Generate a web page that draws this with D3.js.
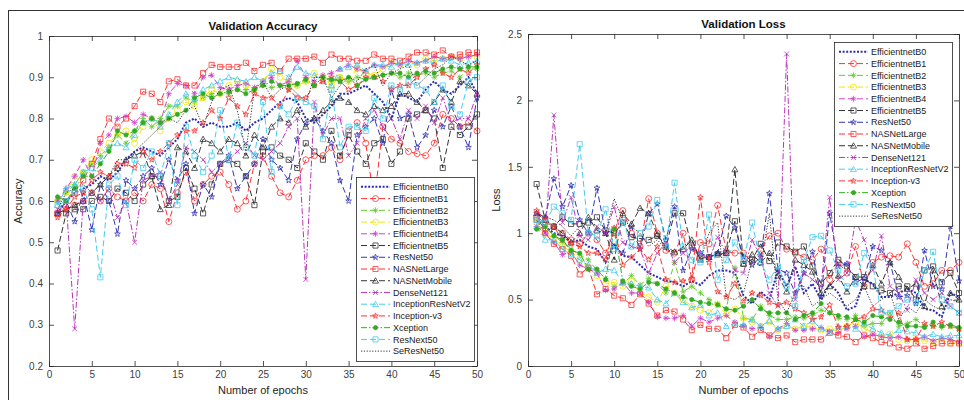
<!DOCTYPE html>
<html lang="en">
<head>
<meta charset="UTF-8">
<title>Validation Accuracy / Loss</title>
<script src="https://cdn.jsdelivr.net/npm/d3@7"></script>
<style>
  body { margin: 0; background: #fff; }
  svg text { font-family: "Liberation Sans", Arial, sans-serif; }
</style>
</head>
<body>
<div id="chart"></div>
<script>
// ---- data ----
const epochs = [1,2,3,4,5,6,7,8,9,10,11,12,13,14,15,16,17,18,19,20,21,22,23,24,25,26,27,28,29,30,31,32,33,34,35,36,37,38,39,40,41,42,43,44,45,46,47,48,49,50];
const modelNames = ["EfficientnetB0","EfficientnetB1","EfficientnetB2","EfficientnetB3","EfficientnetB4","EfficientnetB5","ResNet50","NASNetLarge","NASNetMobile","DenseNet121","InceptionResNetV2","Inception-v3","Xception","ResNext50","SeResNet50"];
const accTicks = [0.2,0.3,0.4,0.5,0.6,0.7,0.8,0.9,1];
const lossTicks = [0,0.5,1,1.5,2,2.5];
const epochTicks = [0,5,10,15,20,25,30,35,40,45,50];

// validation accuracy
const accB0 = [0.57,0.6,0.62,0.63,0.64,0.66,0.65,0.67,0.7,0.72,0.73,0.72,0.71,0.73,0.75,0.79,0.8,0.78,0.79,0.78,0.78,0.79,0.77,0.79,0.8,0.82,0.84,0.85,0.84,0.8,0.79,0.81,0.83,0.86,0.86,0.87,0.88,0.86,0.84,0.8,0.86,0.85,0.84,0.87,0.89,0.87,0.86,0.88,0.9,0.86];
const accB1 = [0.57,0.58,0.59,0.6,0.62,0.6,0.63,0.61,0.6,0.62,0.6,0.64,0.63,0.55,0.62,0.67,0.6,0.64,0.66,0.67,0.64,0.58,0.6,0.69,0.71,0.66,0.62,0.61,0.65,0.7,0.71,0.71,0.73,0.7,0.77,0.79,0.74,0.6,0.78,0.75,0.74,0.72,0.715,0.71,0.74,0.81,0.8,0.78,0.79,0.77];
const accB2 = [0.6,0.62,0.64,0.67,0.69,0.71,0.73,0.76,0.74,0.77,0.8,0.78,0.8,0.83,0.83,0.85,0.84,0.85,0.86,0.86,0.86,0.87,0.87,0.87,0.88,0.875,0.88,0.87,0.88,0.89,0.88,0.9,0.89,0.9,0.89,0.9,0.895,0.9,0.905,0.91,0.9,0.91,0.905,0.91,0.9,0.91,0.915,0.9,0.92,0.92];
const accB3 = [0.6,0.62,0.66,0.67,0.7,0.72,0.74,0.76,0.77,0.74,0.78,0.8,0.77,0.8,0.82,0.84,0.83,0.85,0.87,0.86,0.88,0.89,0.88,0.87,0.89,0.92,0.9,0.89,0.88,0.89,0.91,0.9,0.88,0.9,0.89,0.92,0.91,0.905,0.92,0.935,0.93,0.94,0.93,0.945,0.94,0.945,0.95,0.945,0.95,0.95];
const accB4 = [0.6,0.63,0.66,0.7,0.66,0.74,0.76,0.8,0.805,0.79,0.81,0.8,0.79,0.86,0.885,0.88,0.86,0.9,0.905,0.875,0.87,0.88,0.885,0.875,0.89,0.9,0.88,0.89,0.94,0.9,0.89,0.905,0.91,0.92,0.93,0.92,0.915,0.93,0.925,0.935,0.93,0.94,0.935,0.94,0.95,0.945,0.95,0.945,0.95,0.955];
const accB5 = [0.48,0.57,0.58,0.58,0.6,0.61,0.6,0.63,0.62,0.6,0.64,0.66,0.66,0.6,0.61,0.68,0.63,0.57,0.64,0.69,0.7,0.69,0.66,0.59,0.72,0.73,0.71,0.7,0.68,0.74,0.72,0.7,0.77,0.71,0.76,0.72,0.69,0.74,0.75,0.69,0.72,0.8,0.81,0.82,0.8,0.68,0.78,0.76,0.78,0.81];
const accResNet50 = [0.57,0.6,0.55,0.62,0.53,0.64,0.6,0.52,0.65,0.63,0.66,0.68,0.64,0.7,0.65,0.69,0.57,0.64,0.61,0.69,0.71,0.63,0.66,0.69,0.75,0.7,0.68,0.65,0.75,0.79,0.8,0.77,0.74,0.65,0.6,0.76,0.78,0.8,0.74,0.87,0.8,0.81,0.73,0.76,0.82,0.78,0.83,0.78,0.73,0.85];
const accNASNetLarge = [0.57,0.6,0.62,0.65,0.69,0.75,0.8,0.78,0.8,0.83,0.865,0.86,0.84,0.89,0.895,0.88,0.88,0.91,0.93,0.925,0.925,0.925,0.935,0.915,0.93,0.935,0.915,0.945,0.945,0.945,0.95,0.935,0.955,0.945,0.945,0.94,0.94,0.955,0.945,0.945,0.94,0.95,0.96,0.96,0.955,0.965,0.95,0.955,0.96,0.96];
const accNASNetMobile = [0.57,0.58,0.59,0.6,0.62,0.64,0.66,0.68,0.7,0.71,0.72,0.66,0.58,0.59,0.73,0.72,0.68,0.75,0.74,0.72,0.75,0.74,0.71,0.76,0.73,0.78,0.8,0.79,0.82,0.78,0.8,0.82,0.84,0.85,0.84,0.82,0.81,0.83,0.82,0.83,0.86,0.86,0.84,0.82,0.84,0.87,0.84,0.89,0.88,0.86];
const accDenseNet121 = [0.58,0.6,0.29,0.6,0.62,0.6,0.63,0.56,0.6,0.5,0.65,0.66,0.67,0.6,0.64,0.73,0.72,0.7,0.67,0.69,0.7,0.72,0.74,0.71,0.7,0.72,0.74,0.78,0.8,0.41,0.84,0.76,0.8,0.8,0.71,0.74,0.8,0.82,0.78,0.8,0.75,0.82,0.8,0.83,0.79,0.85,0.79,0.8,0.8,0.86];
const accIncResV2 = [0.59,0.63,0.64,0.67,0.68,0.7,0.73,0.74,0.73,0.76,0.79,0.8,0.78,0.81,0.84,0.86,0.85,0.87,0.88,0.89,0.9,0.895,0.89,0.9,0.89,0.91,0.915,0.9,0.925,0.91,0.905,0.89,0.88,0.92,0.925,0.93,0.915,0.93,0.93,0.925,0.935,0.93,0.935,0.94,0.935,0.945,0.94,0.93,0.935,0.94];
const accIncV3 = [0.56,0.58,0.61,0.62,0.65,0.67,0.66,0.69,0.69,0.68,0.72,0.7,0.72,0.74,0.76,0.77,0.77,0.79,0.82,0.8,0.85,0.83,0.81,0.86,0.85,0.85,0.83,0.87,0.85,0.85,0.88,0.89,0.9,0.89,0.87,0.88,0.9,0.9,0.89,0.87,0.88,0.88,0.9,0.92,0.93,0.91,0.9,0.92,0.91,0.93];
const accXception = [0.61,0.6,0.63,0.66,0.66,0.69,0.72,0.77,0.76,0.77,0.79,0.8,0.79,0.8,0.81,0.82,0.85,0.86,0.85,0.86,0.865,0.87,0.86,0.87,0.88,0.89,0.88,0.88,0.885,0.895,0.88,0.9,0.895,0.89,0.9,0.88,0.895,0.9,0.905,0.91,0.91,0.9,0.91,0.915,0.91,0.92,0.925,0.92,0.925,0.925];
const accResNext50 = [0.59,0.6,0.62,0.63,0.58,0.415,0.64,0.66,0.59,0.7,0.68,0.72,0.66,0.74,0.59,0.78,0.71,0.67,0.71,0.82,0.7,0.79,0.73,0.71,0.84,0.67,0.83,0.81,0.85,0.84,0.83,0.75,0.87,0.73,0.78,0.78,0.77,0.85,0.8,0.88,0.87,0.89,0.88,0.87,0.84,0.88,0.83,0.81,0.89,0.9];
const accSeResNet50 = [0.58,0.62,0.63,0.64,0.62,0.64,0.66,0.7,0.7,0.72,0.74,0.76,0.78,0.8,0.79,0.82,0.83,0.78,0.84,0.87,0.88,0.82,0.72,0.87,0.89,0.85,0.87,0.88,0.86,0.84,0.9,0.9,0.85,0.88,0.9,0.89,0.92,0.93,0.88,0.91,0.92,0.93,0.88,0.9,0.92,0.93,0.95,0.94,0.93,0.94];

// validation loss
const lossB0 = [1.1,1.05,1.0,0.98,0.93,0.95,0.9,0.88,0.78,0.92,0.83,0.82,0.76,0.7,0.67,0.64,0.63,0.6,0.64,0.61,0.68,0.72,0.72,0.7,0.53,0.47,0.56,0.5,0.72,0.6,0.75,0.55,0.62,0.5,0.62,0.55,0.42,0.45,0.65,0.62,0.52,0.52,0.55,0.58,0.55,0.43,0.42,0.37,0.55,0.52];
const lossB1 = [1.12,1.08,1.05,1.0,0.95,0.92,1.0,0.95,0.85,1.02,1.17,1.0,0.9,1.26,1.0,0.87,0.85,1.0,0.65,0.93,0.92,1.21,0.86,0.85,0.85,0.78,0.87,0.98,1.0,0.88,0.85,0.82,0.8,0.88,0.65,0.78,0.7,0.9,0.6,0.78,0.82,0.83,0.82,0.92,0.78,0.6,0.62,0.72,0.72,0.78];
const lossB2 = [1.1,1.05,0.98,0.93,0.88,0.84,0.8,0.72,0.66,0.6,0.62,0.68,0.61,0.66,0.62,0.55,0.78,0.56,0.6,0.55,0.5,0.47,0.43,0.74,0.36,0.35,0.45,0.38,0.35,0.35,0.37,0.36,0.38,0.42,0.4,0.36,0.35,0.38,0.3,0.32,0.32,0.4,0.3,0.32,0.35,0.3,0.3,0.29,0.3,0.27];
const lossB3 = [1.08,1.0,0.96,0.9,0.86,0.8,0.74,0.68,0.62,0.63,0.6,0.64,0.55,0.52,0.48,0.6,0.55,0.5,0.45,0.42,0.4,0.46,0.39,0.43,0.36,0.33,0.3,0.33,0.27,0.3,0.28,0.3,0.29,0.27,0.28,0.26,0.3,0.33,0.28,0.26,0.22,0.24,0.2,0.19,0.2,0.19,0.18,0.19,0.18,0.18];
const lossB4 = [1.05,1.0,0.93,0.84,0.86,0.76,0.73,0.7,0.57,0.58,0.63,0.55,0.55,0.48,0.37,0.36,0.36,0.38,0.3,0.36,0.33,0.36,0.38,0.33,0.3,0.28,0.29,0.22,0.28,0.32,0.27,0.27,0.28,0.29,0.26,0.25,0.28,0.3,0.22,0.24,0.22,0.21,0.22,0.2,0.2,0.22,0.19,0.21,0.2,0.18];
const lossB5 = [1.37,1.1,1.05,1.12,1.07,1.07,1.08,1.12,1.02,1.0,1.08,0.97,0.96,0.95,0.98,0.9,1.15,1.15,0.9,0.81,0.82,0.84,0.85,1.09,0.77,0.8,0.92,0.79,0.93,0.9,0.86,0.9,0.75,0.62,0.7,0.8,0.75,0.67,0.67,0.6,0.57,0.55,0.6,0.6,0.5,0.72,0.75,0.63,0.7,0.55];
const lossResNet50 = [1.15,1.12,1.41,1.2,1.36,1.1,1.0,1.34,1.0,0.9,0.85,1.05,0.88,1.15,1.22,0.95,1.2,0.72,0.88,0.85,0.82,0.85,1.13,1.04,0.82,0.76,0.82,1.3,0.73,0.7,0.55,0.7,0.86,0.52,1.15,0.75,0.77,0.63,0.66,0.9,0.87,0.78,0.52,0.53,0.47,0.87,0.6,0.58,1.05,0.64];
const lossNASNetLarge = [1.1,1.0,0.92,0.88,0.83,0.69,0.74,0.54,0.58,0.53,0.51,0.46,0.54,0.47,0.38,0.42,0.41,0.35,0.27,0.31,0.28,0.28,0.21,0.31,0.29,0.22,0.27,0.23,0.21,0.23,0.18,0.2,0.2,0.2,0.25,0.23,0.22,0.18,0.23,0.21,0.18,0.17,0.14,0.13,0.17,0.13,0.15,0.17,0.17,0.17];
const lossNASNetMobile = [1.15,1.1,1.05,1.0,0.93,1.0,1.12,1.02,1.0,0.8,1.15,1.07,1.19,1.15,0.99,0.9,0.86,0.88,0.95,0.8,0.82,0.85,0.85,1.48,0.77,0.84,0.78,0.85,0.68,0.56,0.8,0.76,0.71,0.55,0.6,0.68,0.56,0.67,0.6,0.76,0.62,0.78,0.67,0.58,0.62,0.45,0.72,0.45,0.55,0.5];
const lossDenseNet121 = [1.15,1.0,1.89,1.08,1.27,0.98,0.95,1.05,1.0,1.2,0.93,0.9,0.88,0.7,0.85,0.93,0.78,0.85,0.9,0.85,0.8,0.97,0.85,0.72,0.7,0.95,0.82,0.55,0.45,2.35,0.5,0.7,0.65,0.6,1.27,0.65,0.7,1.1,0.95,0.72,0.98,0.6,0.55,0.42,0.65,0.55,0.5,0.55,0.45,0.4];
const lossIncResV2 = [1.05,0.95,0.95,0.88,0.84,0.8,0.76,0.7,0.73,0.72,0.63,0.62,0.6,0.59,0.5,0.47,0.55,0.48,0.44,0.46,0.38,0.4,0.3,0.32,0.31,0.35,0.3,0.34,0.28,0.3,0.35,0.3,0.34,0.28,0.25,0.3,0.3,0.28,0.32,0.28,0.25,0.23,0.27,0.26,0.25,0.22,0.24,0.22,0.23,0.23];
const lossIncV3 = [1.17,1.1,1.05,0.95,0.92,0.9,0.85,0.85,0.8,1.04,0.76,0.82,0.88,0.8,0.9,0.65,0.63,0.64,0.66,1.27,0.78,0.56,0.52,0.62,0.49,0.55,0.53,0.48,0.46,0.48,0.43,0.4,0.35,0.37,0.46,0.29,0.3,0.35,0.37,0.43,0.42,0.36,0.4,0.2,0.2,0.32,0.3,0.33,0.3,0.28];
const lossXception = [1.03,1.05,0.98,0.95,0.87,0.85,0.73,0.73,0.65,1.03,0.64,0.6,0.58,0.63,0.62,0.58,0.55,0.52,0.5,0.48,0.47,0.46,0.43,0.42,0.45,0.5,0.43,0.4,0.4,0.4,0.35,0.38,0.4,0.47,0.4,0.38,0.37,0.35,0.33,0.38,0.37,0.35,0.33,0.3,0.3,0.29,0.33,0.3,0.31,0.29];
const lossResNext50 = [1.1,1.08,1.2,1.15,1.1,1.67,1.0,0.98,1.18,0.88,1.1,0.9,1.0,1.05,1.25,0.9,1.38,0.9,0.8,0.78,1.14,0.65,0.8,0.93,0.8,1.08,0.78,0.65,0.75,0.6,0.45,0.8,0.97,0.98,0.87,0.72,0.6,0.62,0.85,0.75,0.4,0.4,0.45,0.5,0.48,0.72,0.86,0.5,0.45,0.4];
const lossSeResNet50 = [1.15,1.12,1.1,1.05,0.98,1.05,1.1,1.05,1.0,1.26,1.1,1.05,1.0,0.9,0.95,0.88,0.85,0.9,0.95,0.8,1.0,1.08,0.52,0.5,0.55,0.8,0.75,1.15,0.5,0.4,0.55,0.6,0.45,0.5,0.55,0.5,0.45,0.5,0.6,0.45,0.5,0.55,0.35,0.45,0.4,0.5,0.45,0.42,0.5,0.48];

const accSeries = [accB0,accB1,accB2,accB3,accB4,accB5,accResNet50,accNASNetLarge,accNASNetMobile,accDenseNet121,accIncResV2,accIncV3,accXception,accResNext50,accSeResNet50];
const lossSeries = [lossB0,lossB1,lossB2,lossB3,lossB4,lossB5,lossResNet50,lossNASNetLarge,lossNASNetMobile,lossDenseNet121,lossIncResV2,lossIncV3,lossXception,lossResNext50,lossSeResNet50];

// line style per model (matlab-like)
const styles = [
  {color:"#2b2bb0", dash:"2,1.6", width:2, marker:null},
  {color:"#ff3030", dash:"6,3", width:1, marker:"o"},
  {color:"#66cc33", dash:"6,3", width:1, marker:"*"},
  {color:"#f2e600", dash:"6,3", width:1, marker:"o"},
  {color:"#cc44cc", dash:"6,3", width:1, marker:"*"},
  {color:"#333333", dash:"6,3", width:1, marker:"s"},
  {color:"#3535b5", dash:"6,3", width:1, marker:"p"},
  {color:"#ff3030", dash:"6,3", width:1, marker:"s"},
  {color:"#333333", dash:"6,3", width:1, marker:"^"},
  {color:"#bb33bb", dash:"6,2,1.5,2", width:1, marker:"x"},
  {color:"#44ccee", dash:"6,3", width:1, marker:"^"},
  {color:"#ff3030", dash:"6,3", width:1, marker:"p"},
  {color:"#33aa22", dash:"6,2,1.5,2", width:1, marker:"o", fill:true, size:4.2},
  {color:"#44ccee", dash:"6,3", width:1, marker:"s"},
  {color:"#333333", dash:"1.2,1.6", width:1, marker:null}
];

function markerPath(type, s) {
  const r = s / 2;
  if (type === "o") return d3.symbol(d3.symbolCircle, Math.PI * r * r)();
  if (type === "s") return `M${-r*0.85},${-r*0.85}H${r*0.85}V${r*0.85}H${-r*0.85}Z`;
  if (type === "^") return `M0,${-r}L${r},${r*0.8}L${-r},${r*0.8}Z`;
  if (type === "p") {
    let p = "";
    for (let i = 0; i < 10; i++) {
      const a = -Math.PI / 2 + i * Math.PI / 5;
      const rr = i % 2 ? r * 0.42 : r;
      p += (i ? "L" : "M") + (rr * Math.cos(a)).toFixed(2) + "," + (rr * Math.sin(a)).toFixed(2);
    }
    return p + "Z";
  }
  if (type === "*") {
    const d = r * 0.7;
    return `M${-r},0H${r}M0,${-r}V${r}M${-d},${-d}L${d},${d}M${-d},${d}L${d},${-d}`;
  }
  if (type === "x") {
    const d = r * 0.8;
    return `M${-d},${-d}L${d},${d}M${-d},${d}L${d},${-d}`;
  }
  return "";
}

const W = 964, H = 400;
const svg = d3.select("#chart").append("svg").attr("width", W).attr("height", H);

// figure frame
svg.append("line").attr("x1", 8).attr("x2", W).attr("y1", 10.5).attr("y2", 10.5).attr("stroke", "#333");
svg.append("line").attr("x1", 8.5).attr("x2", 8.5).attr("y1", 10).attr("y2", H).attr("stroke", "#333");

function drawPanel(opt) {
  const x = d3.scaleLinear().domain([0, 50]).range([opt.left, opt.right]);
  const y = d3.scaleLinear().domain(opt.yDomain).range([opt.bottom, opt.top]);
  const g = svg.append("g");

  g.append("rect").attr("x", opt.left).attr("y", opt.top)
    .attr("width", opt.right - opt.left).attr("height", opt.bottom - opt.top).attr("fill", "#fff");

  const clipId = "clip" + opt.id;
  svg.append("clipPath").attr("id", clipId).append("rect")
    .attr("x", opt.left).attr("y", opt.top - 4)
    .attr("width", opt.right - opt.left + 4).attr("height", opt.bottom - opt.top + 8);

  const plot = g.append("g").attr("clip-path", `url(#${clipId})`);
  const line = d3.line().x((d, i) => x(epochs[i])).y(d => y(d));

  opt.series.forEach((vals, k) => {
    const st = styles[k];
    const sg = plot.append("g");
    sg.append("path").attr("d", line(vals)).attr("fill", "none")
      .attr("stroke", st.color).attr("stroke-width", st.width)
      .attr("stroke-dasharray", st.dash);
    if (st.marker) {
      sg.selectAll("path.m").data(vals).join("path").attr("class", "m")
        .attr("transform", (d, i) => `translate(${x(epochs[i])},${y(d)})`)
        .attr("d", markerPath(st.marker, st.size || 6))
        .attr("fill", st.fill ? st.color : "none")
        .attr("stroke", st.color).attr("stroke-width", 0.8);
    }
  });

  // axes box + ticks (inward, on all sides)
  const axColor = "#262626";
  const xAxB = d3.axisBottom(x).tickValues(epochTicks).tickSizeInner(-5).tickSizeOuter(0).tickPadding(5);
  const xAxT = d3.axisTop(x).tickValues(epochTicks).tickSizeInner(-5).tickSizeOuter(0).tickFormat("");
  const yAxL = d3.axisLeft(y).tickValues(opt.ticks).tickSizeInner(-5).tickSizeOuter(0).tickPadding(6).tickFormat(d3.format("~g"));
  const yAxR = d3.axisRight(y).tickValues(opt.ticks).tickSizeInner(-5).tickSizeOuter(0).tickFormat("");
  [[xAxB, `translate(0,${opt.bottom})`], [xAxT, `translate(0,${opt.top})`],
   [yAxL, `translate(${opt.left},0)`], [yAxR, `translate(${opt.right},0)`]].forEach(([ax, tr]) => {
    const a = g.append("g").attr("transform", tr).call(ax);
    a.selectAll("path,line").attr("stroke", axColor).attr("stroke-width", 0.8);
    a.selectAll("text").attr("fill", "#404040").attr("font-size", 10);
  });

  // titles
  g.append("text").attr("x", (opt.left + opt.right) / 2).attr("y", opt.top - 6)
    .attr("text-anchor", "middle").attr("font-size", 11.5).attr("font-weight", "bold")
    .attr("fill", "#111").text(opt.title);
  g.append("text").attr("x", (opt.left + opt.right) / 2).attr("y", opt.bottom + 28)
    .attr("text-anchor", "middle").attr("font-size", 11).attr("fill", "#262626").text("Number of epochs");
  g.append("text").attr("transform", `translate(${opt.yLabelX},${(opt.top + opt.bottom) / 2}) rotate(-90)`)
    .attr("text-anchor", "middle").attr("font-size", 11).attr("fill", "#262626").text(opt.yLabel);

  // legend
  const L = opt.legend;
  const lg = g.append("g");
  lg.append("rect").attr("x", L.x + 0.5).attr("y", L.y + 0.5).attr("width", L.w).attr("height", L.h)
    .attr("fill", "#fff").attr("stroke", "#262626").attr("stroke-width", 0.8);
  const rowH = (L.h - 8) / modelNames.length;
  modelNames.forEach((name, k) => {
    const st = styles[k];
    const cy = L.y + 4 + rowH * (k + 0.5);
    lg.append("line").attr("x1", L.x + 5).attr("x2", L.x + 34).attr("y1", cy).attr("y2", cy)
      .attr("stroke", st.color).attr("stroke-width", st.width).attr("stroke-dasharray", st.dash);
    if (st.marker) {
      lg.append("path").attr("transform", `translate(${L.x + 19.5},${cy})`)
        .attr("d", markerPath(st.marker, st.size || 6))
        .attr("fill", st.fill ? st.color : "none").attr("stroke", st.color).attr("stroke-width", 0.8);
    }
    lg.append("text").attr("x", L.x + 37).attr("y", cy + 3.2)
      .attr("font-size", 9).attr("fill", "#1a1a1a").text(name);
  });
}

drawPanel({
  id: "acc", title: "Validation Accuracy", yLabel: "Accuracy", yLabelX: 22,
  left: 49, right: 477, top: 36, bottom: 366, yDomain: [0.2, 1], ticks: accTicks,
  series: accSeries,
  legend: {x: 356, y: 177, w: 118, h: 184}
});

drawPanel({
  id: "loss", title: "Validation Loss", yLabel: "Loss", yLabelX: 500,
  left: 528, right: 959, top: 34, bottom: 366, yDomain: [0, 2.5], ticks: lossTicks,
  series: lossSeries,
  legend: {x: 834, y: 42, w: 118, h: 184}
});
</script>
</body>
</html>
